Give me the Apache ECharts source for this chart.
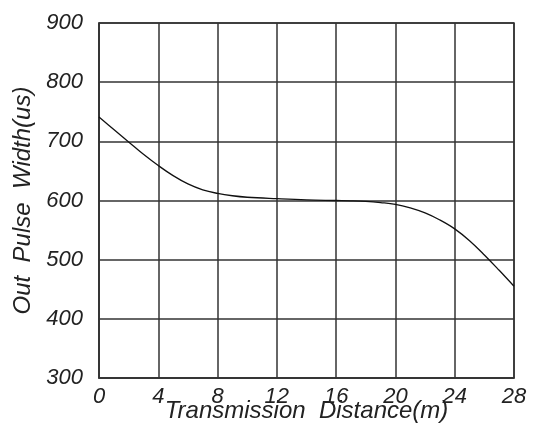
<!DOCTYPE html>
<html>
<head>
<meta charset="utf-8">
<script src="https://cdn.jsdelivr.net/npm/echarts@6/dist/echarts.min.js"></script>
<style>html,body{margin:0;padding:0;background:#fff;}#c{width:535px;height:434px;}</style>
</head>
<body>
<div id="c"></div>
<script>
var distances = [0, 1, 2, 3, 4, 5, 6, 7, 8, 9, 10, 12, 14, 16, 17, 18, 19, 20, 21, 22, 23, 24, 25, 26, 27, 28];
var pulseWidth = [741, 720, 699, 678, 659, 642, 628, 618, 612, 608, 605.5, 603, 601, 600, 599.5, 598.5, 596.5, 593.5, 587.5, 579, 567, 552, 532, 508, 482, 455];
var yTicks = [300, 400, 500, 600, 700, 800, 900];
var xTicks = [0, 4, 8, 12, 16, 20, 24, 28];

var fontFam = '"Liberation Sans", "DejaVu Sans", sans-serif';
var chart = echarts.init(document.getElementById('c'), null, {renderer: 'canvas'});
var points = distances.map(function (d, i) { return [d, pulseWidth[i]]; });
chart.setOption({
  animation: false,
  backgroundColor: '#fff',
  grid: {left: 99, top: 23, width: 415, height: 355, show: true, borderColor: '#333', borderWidth: 1.5, backgroundColor: 'transparent', containLabel: false, outerBoundsMode: 'none'},
  xAxis: {
    type: 'value', min: xTicks[0], max: xTicks[xTicks.length - 1], interval: 4,
    name: 'Transmission  Distance(m)', nameLocation: 'middle', nameGap: 21, nameMoveOverlap: false,
    nameTextStyle: {fontFamily: fontFam, fontStyle: 'italic', fontSize: 24, color: '#222'},
    axisLine: {show: true, lineStyle: {color: '#333', width: 1.5}},
    axisTick: {show: false},
    axisLabel: {fontFamily: fontFam, fontStyle: 'italic', fontSize: 22, color: '#222', margin: 8},
    splitLine: {show: true, lineStyle: {color: '#333', width: 1.5}}
  },
  yAxis: {
    type: 'value', min: yTicks[0], max: yTicks[yTicks.length - 1], interval: 100,
    name: 'Out  Pulse  Width(us)', nameLocation: 'middle', nameGap: 64, nameRotate: 90, nameMoveOverlap: false,
    nameTextStyle: {fontFamily: fontFam, fontStyle: 'italic', fontSize: 24, color: '#222'},
    axisLine: {show: true, lineStyle: {color: '#333', width: 1.5}},
    axisTick: {show: false},
    axisLabel: {fontFamily: fontFam, fontStyle: 'italic', fontSize: 22, color: '#222', margin: 16},
    splitLine: {show: true, lineStyle: {color: '#333', width: 1.5}}
  },
  series: [{
    type: 'line', data: points, smooth: 0.4, showSymbol: false,
    lineStyle: {color: '#111', width: 1.3}
  }]
});
</script>
</body>
</html>
